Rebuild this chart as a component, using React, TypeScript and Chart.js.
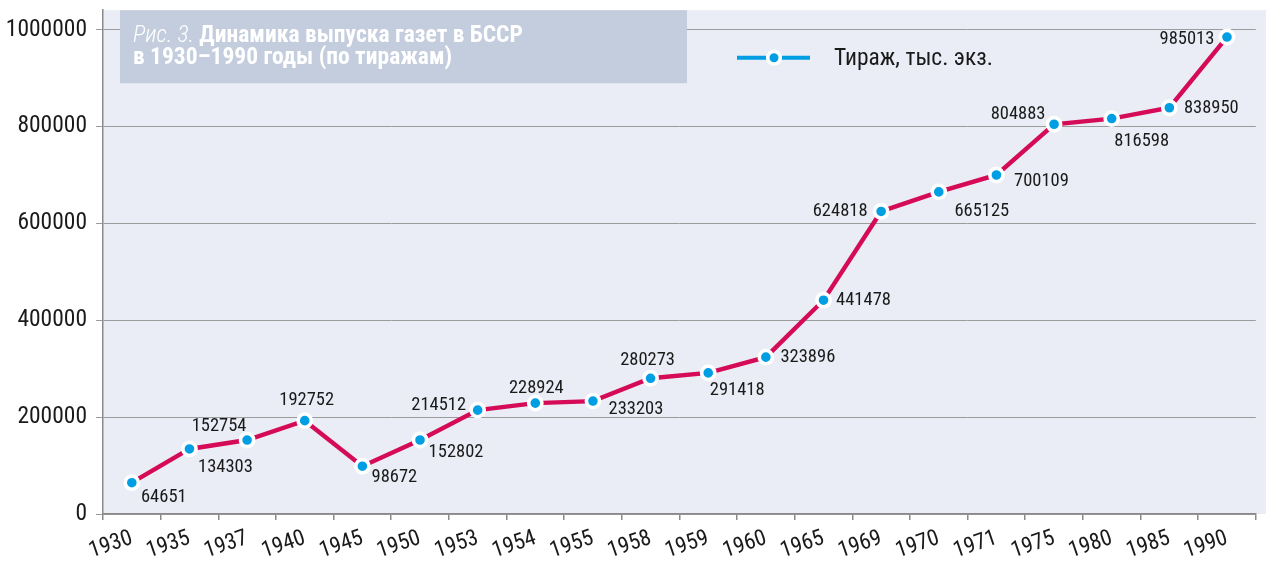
import { useEffect, useRef } from 'react';
import { Chart, registerables } from 'chart.js';

Chart.register(...registerables);

const years = ['1930', '1935', '1937', '1940', '1945', '1950', '1953', '1954', '1955', '1958', '1959', '1960', '1965', '1969', '1970', '1971', '1975', '1980', '1985', '1990'];
const circulation = [64651, 134303, 152754, 192752, 98672, 152802, 214512, 228924, 233203, 280273, 291418, 323896, 441478, 624818, 665125, 700109, 804883, 816598, 838950, 985013];
const yTickValues = [0, 200000, 400000, 600000, 800000, 1000000];
const seriesLabel = 'Тираж, тыс. экз.';
const titleItalic = 'Рис. 3.';
const titleLine1 = 'Динамика выпуска газет в БССР';
const titleLine2 = 'в 1930–1990 годы (по тиражам)';

// label placement relative to each point (style only)
const labelOffsets: [number, number][] = [
  [32, 15], [36, 18], [-28, -14], [2, -20], [32, 11], [36, 12], [-39, -5], [1, -15], [43, 8], [-3, -18],
  [29, 17], [42, 0], [40, 0], [-41, 0], [43, 19], [45, 6], [-36, -10], [30, 23], [42, 1], [-40, 2],
];

const FONT = '"Roboto Condensed", "DejaVu Sans Condensed", sans-serif';
const LINE_COLOR = '#D50B57';
const POINT_COLOR = '#009FE3';
const PLOT_BG = '#EAEDF5';
const GRID = '#9C9C9C';
const AXIS = '#8A8A8A';
const TEXT = '#1A1A1A';

const bgPlugin = {
  id: 'bgPlugin',
  beforeDraw(chart: any) {
    const { ctx, chartArea, width, height } = chart;
    ctx.save();
    ctx.fillStyle = '#FFFFFF';
    ctx.fillRect(0, 0, width, height);
    ctx.fillStyle = PLOT_BG;
    ctx.fillRect(chartArea.left, chartArea.top, width - chartArea.left, chartArea.bottom - chartArea.top);
    ctx.restore();
  },
};

const titlePlugin = {
  id: 'titlePlugin',
  beforeDatasetsDraw(chart: any) {
    const { ctx, chartArea } = chart;
    const bx = chartArea.left + 17;
    const by = chartArea.top;
    ctx.save();
    ctx.fillStyle = '#C3CDDD';
    ctx.fillRect(bx, by, 567, 73);
    ctx.fillStyle = '#FFFFFF';
    ctx.textBaseline = 'alphabetic';
    ctx.textAlign = 'left';
    ctx.font = `italic 300 23.5px ${FONT}`;
    ctx.fillText(titleItalic, bx + 13, by + 31.5);
    const w = ctx.measureText(titleItalic + ' ').width;
    ctx.font = `bold 23.5px ${FONT}`;
    ctx.fillText(titleLine1, bx + 13 + w, by + 31.5);
    ctx.fillText(titleLine2, bx + 13, by + 53.5);
    ctx.restore();
  },
};

const legendPlugin = {
  id: 'legendPlugin',
  afterDraw(chart: any) {
    const { ctx, chartArea } = chart;
    const x0 = chartArea.left + 634;
    const y = chartArea.top + 47.5;
    ctx.save();
    ctx.strokeStyle = POINT_COLOR;
    ctx.lineWidth = 4;
    ctx.beginPath();
    ctx.moveTo(x0, y);
    ctx.lineTo(x0 + 73, y);
    ctx.stroke();
    ctx.beginPath();
    ctx.arc(x0 + 37, y, 6.3, 0, Math.PI * 2);
    ctx.fillStyle = POINT_COLOR;
    ctx.fill();
    ctx.lineWidth = 3.6;
    ctx.strokeStyle = '#FFFFFF';
    ctx.stroke();
    ctx.fillStyle = TEXT;
    ctx.font = `23.5px ${FONT}`;
    ctx.textBaseline = 'middle';
    ctx.textAlign = 'left';
    ctx.fillText(seriesLabel, x0 + 97, y + 1);
    ctx.restore();
  },
};

const dataLabelPlugin = {
  id: 'dataLabelPlugin',
  afterDatasetsDraw(chart: any) {
    const { ctx } = chart;
    const meta = chart.getDatasetMeta(0);
    ctx.save();
    ctx.fillStyle = TEXT;
    ctx.font = `18.5px ${FONT}`;
    ctx.textAlign = 'center';
    ctx.textBaseline = 'middle';
    meta.data.forEach((pt: any, i: number) => {
      const [dx, dy] = labelOffsets[i];
      ctx.fillText(String(circulation[i]), pt.x + dx, pt.y + dy);
    });
    ctx.restore();
  },
};

export default function App() {
  const ref = useRef<HTMLCanvasElement | null>(null);
  useEffect(() => {
    document.body.style.margin = '0';
    const canvas = ref.current!;
    const chart = new Chart(canvas, {
      type: 'line',
      data: {
        labels: years,
        datasets: [
          {
            label: seriesLabel,
            data: circulation,
            borderColor: LINE_COLOR,
            borderWidth: 4.4,
            pointBackgroundColor: POINT_COLOR,
            pointBorderColor: '#FFFFFF',
            pointBorderWidth: 3.6,
            pointRadius: 6.6,
            tension: 0,
            fill: false,
          },
        ],
      },
      options: {
        animation: false,
        responsive: false,
        maintainAspectRatio: false,
        layout: { padding: { top: 7, right: 6, left: 0, bottom: 0 } },
        plugins: {
          legend: { display: false },
          tooltip: { enabled: false },
          title: { display: false },
        },
        scales: {
          x: {
            type: 'category',
            offset: true,
            grid: {
              offset: true,
              drawOnChartArea: false,
              drawTicks: true,
              tickLength: 6,
              color: AXIS,
              lineWidth: 1.5,
            },
            border: { display: true, color: AXIS, width: 1.5 },
            ticks: {
              autoSkip: false,
              minRotation: 19,
              maxRotation: 19,
              padding: 5,
              color: TEXT,
              font: { family: FONT, size: 22.5 },
            },
            afterFit(scale: any) {
              scale.height = 49;
              scale.paddingLeft = 0;
              scale.paddingRight = 0;
            },
          },
          y: {
            type: 'linear',
            min: 0,
            max: 1040400,
            afterBuildTicks(scale: any) {
              scale.ticks = yTickValues.map((v) => ({ value: v }));
            },
            grid: {
              color: GRID,
              lineWidth: 1,
              drawTicks: true,
              tickLength: 7,
            },
            border: { display: true, color: AXIS, width: 1.5 },
            ticks: {
              includeBounds: false,
              padding: 9,
              color: TEXT,
              font: { family: FONT, size: 23.5 },
              callback: (v: any) => String(v),
            },
            afterFit(scale: any) {
              scale.width = 103;
              scale.paddingTop = 0;
              scale.paddingBottom = 0;
            },
          },
        },
      },
      plugins: [bgPlugin, titlePlugin, dataLabelPlugin, legendPlugin],
    });
    return () => chart.destroy();
  }, []);
  return (
    <canvas
      ref={ref}
      width={1266}
      height={563}
      style={{ display: 'block', position: 'absolute', left: 0, top: 0, width: 1266, height: 563 }}
    />
  );
}
